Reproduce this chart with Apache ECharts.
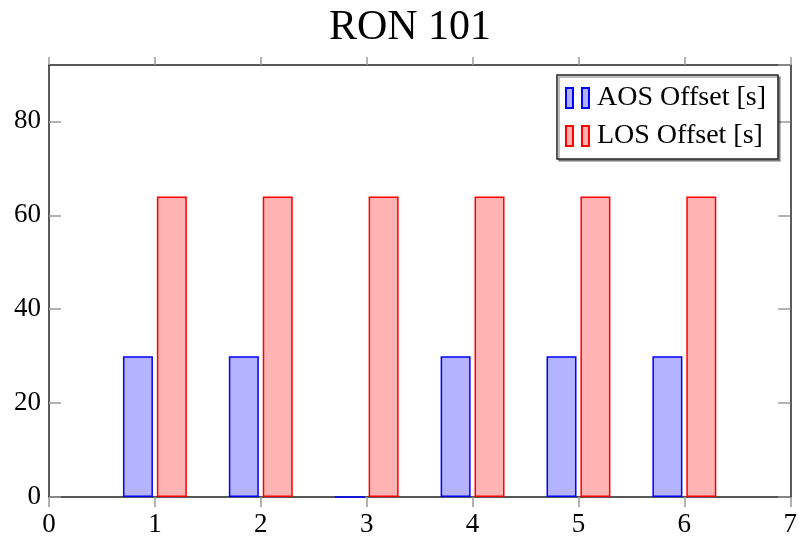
<!DOCTYPE html>
<html>
<head>
<meta charset="utf-8">
<script src="https://cdn.jsdelivr.net/npm/echarts@6/dist/echarts.min.js"></script>
<style>
  html, body { margin: 0; padding: 0; background: #fff; }
  #chart { width: 800px; height: 542px; }
</style>
</head>
<body>
<div id="chart"></div>
<script>
// data
var positions = [1, 2, 3, 4, 5, 6];
var aosOffset = [30, 30, 0, 30, 30, 30];
var losOffset = [64, 64, 64, 64, 64, 64];

var serif = 'Liberation Serif';

function pairs(values) {
  return positions.map(function (x, i) { return [x, values[i]]; });
}

var chart = echarts.init(document.getElementById('chart'));

var option = {
  animation: false,
  title: {
    text: 'RON 101',
    left: 405,
    textAlign: 'center',
    top: 2,
    textStyle: { fontFamily: serif, fontSize: 42, fontWeight: 'normal', color: '#000' }
  },
  grid: { left: 49, right: 3, top: 65, bottom: 45 },
  legend: {
    right: 22,
    top: 75,
    orient: 'vertical',
    align: 'left',
    padding: [9, 12, 9, 8],
    itemGap: 10,
    itemWidth: 23,
    itemHeight: 20,
    icon: 'path://M0,0h7v20h-7z M16,0h7v20h-7z',
    backgroundColor: '#fff',
    borderColor: '#222',
    borderWidth: 1.5,
    shadowColor: 'rgba(0,0,0,0.35)',
    shadowOffsetX: 2,
    shadowOffsetY: 2,
    shadowBlur: 0,
    textStyle: { fontFamily: serif, fontSize: 28, color: '#000', padding: [0, 0, 0, 3] }
  },
  xAxis: [
    {
      type: 'value',
      min: 0,
      max: 7,
      interval: 1,
      splitLine: { show: false },
      axisLine: { onZero: false, lineStyle: { color: '#222', width: 1.5 } },
      axisTick: { inside: false, length: 10, lineStyle: { color: '#999', width: 1.5 } },
      axisLabel: { margin: 14, fontFamily: serif, fontSize: 27, color: '#000' }
    },
    {
      type: 'value',
      position: 'top',
      min: 0,
      max: 7,
      interval: 1,
      splitLine: { show: false },
      axisLine: { onZero: false, lineStyle: { color: '#222', width: 1.5 } },
      axisTick: { inside: false, length: 8, lineStyle: { color: '#999', width: 1.5 } },
      axisLabel: { show: false }
    }
  ],
  yAxis: [
    {
      type: 'value',
      min: 0,
      max: 92,
      interval: 20,
      splitLine: { show: false },
      axisLine: { show: true, onZero: false, lineStyle: { color: '#222', width: 1.5 } },
      axisTick: { show: true, inside: true, length: 12, lineStyle: { color: '#999', width: 1.5 } },
      axisLabel: { margin: 8, showMaxLabel: false, fontFamily: serif, fontSize: 27, color: '#000' }
    },
    {
      type: 'value',
      position: 'right',
      min: 0,
      max: 92,
      interval: 20,
      splitLine: { show: false },
      axisLine: { show: true, onZero: false, lineStyle: { color: '#222', width: 1.5 } },
      axisTick: { show: true, inside: true, length: 12, lineStyle: { color: '#999', width: 1.5 } },
      axisLabel: { show: false }
    }
  ],
  series: [
    {
      name: 'AOS Offset [s]',
      type: 'bar',
      data: pairs(aosOffset),
      barWidth: 30,
      barGap: '13%',
      itemStyle: { color: '#b3b3ff', borderColor: '#0000ff', borderWidth: 1.5 }
    },
    {
      name: 'LOS Offset [s]',
      type: 'bar',
      data: pairs(losOffset),
      barWidth: 30,
      barGap: '13%',
      itemStyle: { color: '#ffb3b3', borderColor: '#ff0000', borderWidth: 1.5 }
    }
  ]
};

if (option && typeof option === 'object') {
  chart.setOption(option);
}

window.addEventListener('resize', chart.resize);
</script>
</body>
</html>
